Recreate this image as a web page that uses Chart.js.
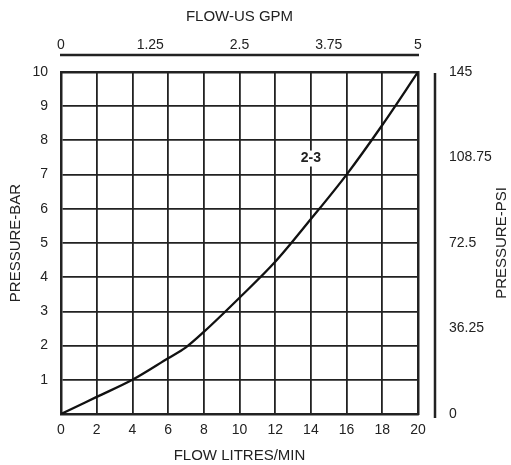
<!DOCTYPE html>
<html>
<head>
<meta charset="utf-8">
<script src="https://cdn.jsdelivr.net/npm/chart.js@4"></script>
<style>
  body { margin: 0; background: #fff; }
  canvas { display: block; }
</style>
</head>
<body>
<canvas id="pumpChart" width="511" height="465"></canvas>
<script>
// flow (l/min) vs pressure (bar)
const flowLpm = [0, 2, 4, 6, 7, 8, 10, 12, 14, 16, 18, 20];
const pressureBar = [0, 0.5, 1.0, 1.63, 1.95, 2.4, 3.4, 4.45, 5.7, 7.0, 8.45, 10];

const gpmTicks = [0, 1.25, 2.5, 3.75, 5];
const psiTicks = [0, 36.25, 72.5, 108.75, 145];
const curveName = "2-3";
const psiTitle = "PRESSURE-PSI";

const ink = "#222";
const fontFam = "'Liberation Sans', Arial, sans-serif";
const tickFont = { family: fontFam, size: 14 };
const titleFont = { family: fontFam, size: 15 };

const points = [];
for (let i = 0; i < flowLpm.length; i++) {
  points.push({ x: flowLpm[i], y: pressureBar[i] });
}

function fixSize(w, h) {
  return function (scale) {
    if (w !== null) scale.width = w;
    if (h !== null) scale.height = h;
  };
}

function setTicks(list) {
  return function (scale) {
    scale.ticks = list.map(v => ({ value: v }));
  };
}

// extra axis lines away from the frame, curve label, right title (reads bottom-up)
const extras = {
  id: "extras",
  afterDraw(chart) {
    const ctx = chart.ctx;
    const a = chart.chartArea;
    ctx.save();
    ctx.strokeStyle = ink;
    ctx.lineWidth = 2.5;
    ctx.beginPath();
    ctx.moveTo(a.left - 1, a.top - 17);
    ctx.lineTo(a.right + 1, a.top - 17);
    ctx.moveTo(a.right + 17, a.top + 1);
    ctx.lineTo(a.right + 17, a.bottom + 4);
    ctx.stroke();

    const x = chart.scales.x.getPixelForValue(14);
    const y = chart.scales.y.getPixelForValue(7.47);
    ctx.font = "bold 14px " + fontFam;
    const w = ctx.measureText(curveName).width;
    ctx.fillStyle = "#fff";
    ctx.fillRect(x - w / 2 - 2, y - 8, w + 4, 16);
    ctx.fillStyle = ink;
    ctx.textAlign = "center";
    ctx.textBaseline = "middle";
    ctx.fillText(curveName, x, y);

    ctx.translate(502, (a.top + a.bottom) / 2);
    ctx.rotate(-Math.PI / 2);
    ctx.font = "15px " + fontFam;
    ctx.fillText(psiTitle, 0, 0);
    ctx.restore();
  }
};

const config = {
  type: "line",
  data: {
    datasets: [
      {
        data: points,
        borderColor: "#111",
        borderWidth: 2.3,
        pointRadius: 0,
        fill: false,
        cubicInterpolationMode: "monotone",
      },
    ],
  },
  options: {
    responsive: false,
    animation: false,
    devicePixelRatio: 1,
    layout: { padding: 0 },
    plugins: {
      legend: { display: false },
      tooltip: { enabled: false },
    },
    scales: {
      x: {
        type: "linear",
        position: "bottom",
        min: 0,
        max: 20,
        afterFit: fixSize(null, 51),
        ticks: { stepSize: 2, padding: 7.5, color: ink, font: tickFont },
        grid: { color: ink, lineWidth: 1.8, drawTicks: false },
        border: { display: true, color: ink, width: 2.5 },
        title: { display: true, text: "FLOW LITRES/MIN", color: ink, padding: 0, font: titleFont },
      },
      xTop: {
        type: "linear",
        position: "top",
        min: 0,
        max: 5,
        afterFit: fixSize(null, 72),
        afterBuildTicks: setTicks(gpmTicks),
        ticks: { padding: 18, color: ink, font: tickFont, callback: v => String(v) },
        grid: { display: false, drawTicks: false },
        border: { display: true, color: ink, width: 2.5 },
        title: { display: true, text: "FLOW-US GPM", color: ink, padding: 7.5, font: titleFont },
      },
      y: {
        type: "linear",
        position: "left",
        min: 0,
        max: 10,
        afterFit: fixSize(61, null),
        ticks: { stepSize: 1, padding: 13, color: ink, font: tickFont, callback: v => (v === 0 ? "" : String(v)) },
        grid: { color: ink, lineWidth: 1.8, drawTicks: false },
        border: { display: true, color: ink, width: 2.5 },
        title: { display: true, text: "PRESSURE-BAR", color: ink, padding: 7, font: titleFont },
      },
      yRight: {
        type: "linear",
        position: "right",
        min: 0,
        max: 145,
        afterFit: fixSize(93, null),
        afterBuildTicks: setTicks(psiTicks),
        ticks: { padding: 31, color: ink, font: tickFont, callback: v => String(v) },
        grid: { display: false, drawTicks: false },
        border: { display: true, color: ink, width: 2.5 },
      },
    },
  },
  plugins: [extras],
};

const myChart = new Chart(document.getElementById("pumpChart"), config);
</script>
</body>
</html>
